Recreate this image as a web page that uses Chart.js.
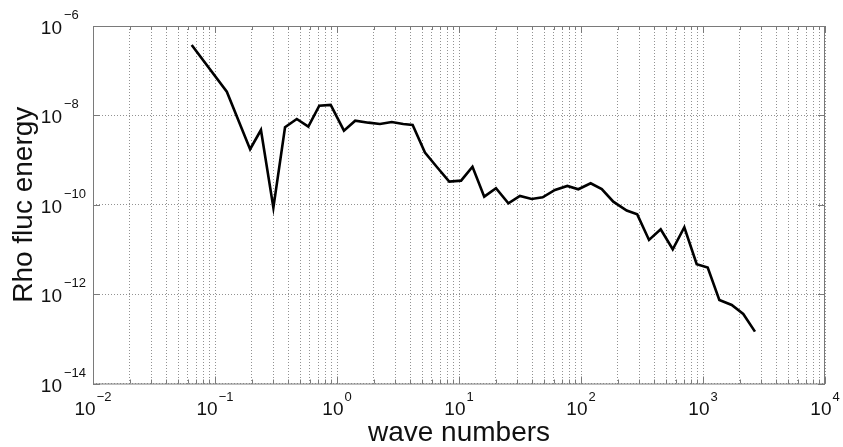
<!DOCTYPE html>
<html>
<head>
<meta charset="utf-8">
<script src="https://cdn.jsdelivr.net/npm/chart.js@4"></script>
<style>
  html, body { margin: 0; padding: 0; background: #fff; }
  #wrap { width: 843px; height: 447px; }
</style>
</head>
<body>
<div id="wrap"><canvas id="spec"></canvas></div>
<script>
// wave numbers (x) and density fluctuation energy (y)
const waveNumbers = [
  0.0644, 0.125, 0.194, 0.238, 0.301, 0.375, 0.468, 0.582, 0.716, 0.888,
  1.14, 1.41, 1.81, 2.25, 2.81, 3.49, 4.17, 5.26, 6.56, 8.32,
  10.4, 12.9, 16.1, 20.1, 25.4, 31.6, 39.4, 48.5, 61.2, 77.3,
  95.1, 120, 148, 184, 237, 289, 361, 450, 565, 703,
  888, 1093, 1361, 1720, 2138, 2667
];
const rhoEnergy = [
  3.76e-7, 3.39e-8, 1.75e-9, 4.71e-9, 8.6e-11, 5.42e-9, 8.3e-9, 5.58e-9, 1.65e-8, 1.71e-8,
  4.55e-9, 7.6e-9, 6.87e-9, 6.43e-9, 7.1e-9, 6.43e-9, 6.1e-9, 1.47e-9, 7.1e-10, 3.29e-10,
  3.46e-10, 7.1e-10, 1.52e-10, 2.34e-10, 1.08e-10, 1.57e-10, 1.35e-10, 1.47e-10, 2.14e-10, 2.64e-10,
  2.22e-10, 3.03e-10, 2.25e-10, 1.17e-10, 7.4e-11, 6.1e-11, 1.63e-11, 2.83e-11, 1.01e-11, 3.14e-11,
  4.67e-12, 3.92e-12, 7.4e-13, 5.73e-13, 3.6e-13, 1.45e-13
];

// tick values
const xMajor = [1e-2, 1e-1, 1e0, 1e1, 1e2, 1e3, 1e4];
const xMinorSteps = [2, 3, 4, 5, 6, 7, 8, 9];
const yMajor = [1e-14, 1e-12, 1e-10, 1e-8, 1e-6];

const xTicks = [];
xMajor.forEach((d, i) => {
  xTicks.push(d);
  if (i < xMajor.length - 1) xMinorSteps.forEach(s => xTicks.push(s * d));
});

const isPow10 = v => Math.abs(Math.log10(v) - Math.round(Math.log10(v))) < 1e-9;
const expText = v => {
  const e = Math.round(Math.log10(v));
  return (e < 0 ? '\u2212' + (-e) : String(e));
};

const FONT = '"Liberation Sans", Arial, Helvetica, sans-serif';

// MATLAB-like box, inward ticks and 10^n labels
const matlabAxes = {
  id: 'matlabAxes',
  afterDraw(chart) {
    const { ctx, chartArea: a } = chart;
    const xs = chart.scales.x, ys = chart.scales.y;
    ctx.save();
    ctx.strokeStyle = '#7a7a7a';
    ctx.lineWidth = 1;
    ctx.strokeRect(a.left + 0.5, a.top + 0.5, a.right - a.left - 1, a.bottom - a.top);

    ctx.beginPath();
    xs.ticks.forEach(t => {
      const px = Math.round(xs.getPixelForValue(t.value)) + 0.5;
      const len = isPow10(t.value) ? 7 : 4;
      ctx.moveTo(px, a.bottom); ctx.lineTo(px, a.bottom - len);
      ctx.moveTo(px, a.top); ctx.lineTo(px, a.top + len);
    });
    ys.ticks.forEach(t => {
      const py = Math.round(ys.getPixelForValue(t.value)) + 0.5;
      ctx.moveTo(a.left, py); ctx.lineTo(a.left + 7, py);
      ctx.moveTo(a.right, py); ctx.lineTo(a.right - 7, py);
    });
    ctx.stroke();

    ctx.fillStyle = '#111';
    ctx.textBaseline = 'alphabetic';
    const baseFont = '19px ' + FONT;
    const supFont = '13px ' + FONT;

    xs.ticks.filter(t => isPow10(t.value)).forEach(t => {
      const px = xs.getPixelForValue(t.value);
      const ex = expText(t.value);
      ctx.font = baseFont;
      const w10 = ctx.measureText('10').width;
      ctx.font = supFont;
      const we = ctx.measureText(ex).width;
      const x0 = px - (w10 + 1 + we) / 2;
      ctx.textAlign = 'left';
      ctx.font = baseFont;
      ctx.fillText('10', x0, a.bottom + 31);
      ctx.font = supFont;
      ctx.fillText(ex, x0 + w10 + 1, a.bottom + 17);
    });

    ys.ticks.forEach(t => {
      const py = ys.getPixelForValue(t.value);
      const ex = expText(t.value);
      const x10 = a.left - 31;
      ctx.font = baseFont;
      ctx.textAlign = 'right';
      ctx.fillText('10', x10, py + 8);
      ctx.font = supFont;
      ctx.textAlign = 'left';
      ctx.fillText(ex, x10 + 2, py - 7);
    });
    ctx.restore();
  }
};

new Chart(document.getElementById('spec'), {
  type: 'line',
  data: {
    datasets: [{
      label: 'Rho fluc energy',
      data: waveNumbers.map((k, i) => ({ x: k, y: rhoEnergy[i] })),
      borderColor: '#000',
      borderWidth: 2.6,
      pointRadius: 0,
      tension: 0,
      fill: false
    }]
  },
  options: {
    responsive: true,
    maintainAspectRatio: false,
    animation: false,
    layout: { padding: { left: 0, top: 26, right: 18, bottom: 0 } },
    plugins: {
      legend: { display: false },
      tooltip: { enabled: false }
    },
    scales: {
      x: {
        type: 'logarithmic',
        min: 1e-2,
        max: 1e4,
        afterBuildTicks: s => { s.ticks = xTicks.map(v => ({ value: v })); },
        afterFit: s => { s.height = 63.5; },
        ticks: { display: false },
        grid: { color: 'rgba(110,110,110,0.75)', lineWidth: 1, drawTicks: false },
        border: { display: false, dash: [1, 2] },
        title: {
          display: true,
          text: 'wave numbers',
          color: '#111',
          font: { family: FONT, size: 28 },
          padding: { top: 0, bottom: -3 }
        }
      },
      y: {
        type: 'logarithmic',
        min: 1e-14,
        max: 1e-6,
        afterBuildTicks: s => { s.ticks = yMajor.map(v => ({ value: v })); },
        afterFit: s => { s.width = 93; },
        ticks: { display: false },
        grid: { color: 'rgba(110,110,110,0.75)', lineWidth: 1, drawTicks: false },
        border: { display: false, dash: [1, 2] },
        title: {
          display: true,
          text: 'Rho fluc energy',
          color: '#111',
          font: { family: FONT, size: 28 },
          padding: { top: 7, bottom: 0 }
        }
      }
    }
  },
  plugins: [matlabAxes]
});
</script>
</body>
</html>
